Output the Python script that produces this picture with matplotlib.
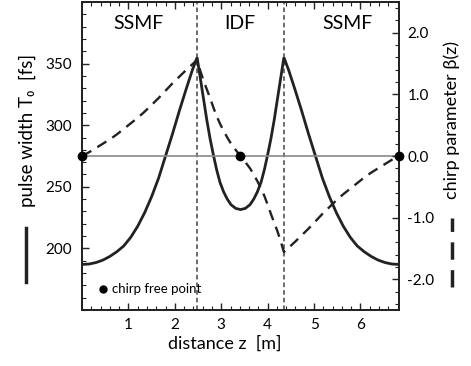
import numpy as np
import matplotlib.pyplot as plt
from matplotlib.lines import Line2D
from matplotlib.ticker import MultipleLocator

plt.rcParams['font.family'] = ['Lato', 'DejaVu Sans']

# distance z [m] (same grid for both curves)
z = [0.0, 0.15, 0.3, 0.45, 0.6, 0.75, 0.9, 1.05, 1.2, 1.35, 1.5, 1.65, 1.8, 1.95, 2.1, 2.25, 2.38, 2.48,
     2.55, 2.62, 2.69, 2.76, 2.83, 2.90, 2.97, 3.05, 3.13, 3.21, 3.31, 3.415,
     3.52, 3.62, 3.70, 3.78, 3.86, 3.93, 4.00, 4.07, 4.14, 4.21, 4.28, 4.35,
     4.45, 4.58, 4.73, 4.88, 5.03, 5.18, 5.33, 5.48, 5.63, 5.78, 5.93, 6.08, 6.23, 6.38, 6.53, 6.68, 6.83]

# pulse width T0 [fs]
T0 = [187, 187.3, 188.5, 190.5, 193.5, 197.3, 202, 209, 218, 229, 242, 257, 275, 293, 312, 330, 345, 355,
      338, 321, 304, 289, 276, 264, 254, 246, 240, 235.5, 232.5, 231.5,
      232.5, 235.5, 240, 246, 254, 264, 276, 289, 304, 321, 338, 355,
      345, 330, 312, 293, 275, 257, 242, 229, 218, 209, 202, 197.3, 193.5, 190.5, 188.5, 187.3, 187]

# chirp parameter beta(z)
beta = [0.0, 0.06, 0.13, 0.20, 0.27, 0.35, 0.44, 0.53, 0.62, 0.72, 0.83, 0.94, 1.06, 1.18, 1.29, 1.40, 1.49, 1.56,
        1.38, 1.22, 1.08, 0.94, 0.79, 0.65, 0.53, 0.41, 0.30, 0.20, 0.10, 0.0,
        -0.10, -0.20, -0.30, -0.41, -0.53, -0.65, -0.79, -0.94, -1.08, -1.22, -1.38, -1.56,
        -1.49, -1.40, -1.29, -1.18, -1.06, -0.94, -0.83, -0.72, -0.62, -0.53, -0.44, -0.35, -0.27, -0.20, -0.13, -0.06, 0.0]

chirp_free_z = [0.0, 3.415, 6.83]
fiber_bounds = [2.48, 4.35]
fiber_names = ['SSMF', 'IDF', 'SSMF']
fiber_name_z = [1.22, 3.41, 5.71]

dark = '#222222'

fig = plt.figure(figsize=(4.71, 3.66), dpi=100)
ax = fig.add_axes([82/471, 1-310/366, (399-82)/471, (310-2)/366])
ax2 = ax.twinx()

ax.set_xlim(0, 6.83)
ax.set_ylim(150, 400)
ax2.set_ylim(-2.5, 2.5)

ax2.axhline(0, color='#8a8a8a', lw=1.2, zorder=1)
for zb in fiber_bounds:
    ax.axvline(zb, color='#444444', lw=1.1, ls=(0, (3, 2)), zorder=1)

ax.plot(z, T0, color=dark, lw=2.0, solid_joinstyle='miter', zorder=3)
ax2.plot(z, beta, color=dark, lw=1.7, ls=(0, (4.5, 3)), zorder=3)
ax2.plot(chirp_free_z, [0]*len(chirp_free_z), 'o', color='black', ms=6, clip_on=False, zorder=5)

for name, zn in zip(fiber_names, fiber_name_z):
    ax.text(zn, 0.93, name, transform=ax.get_xaxis_transform(), ha='center', va='center', fontsize=14)

ax.plot([0.066], [0.068], 'o', color='black', ms=5, transform=ax.transAxes)
ax.text(0.095, 0.068, 'chirp free point', transform=ax.transAxes, ha='left', va='center', fontsize=9.5)

# ticks
ax.set_xticks([1, 2, 3, 4, 5, 6])
ax.xaxis.set_minor_locator(MultipleLocator(0.2))
ax.set_yticks([200, 250, 300, 350])
ax.yaxis.set_minor_locator(MultipleLocator(10))
ax2.set_yticks([-2, -1, 0, 1, 2])
ax2.yaxis.set_minor_locator(MultipleLocator(0.2))
ax2.set_yticklabels(['-2.0', '-1.0', '0.0', '1.0', '2.0'])

ax.tick_params(axis='x', which='both', direction='in', top=True, labelsize=11, pad=6, color=dark)
ax.tick_params(axis='y', which='both', direction='in', right=False, labelsize=11, pad=7, color=dark)
ax2.tick_params(axis='y', which='both', direction='in', labelsize=11, pad=6, color=dark)
for a in (ax, ax2):
    a.tick_params(which='major', length=5, width=1)
    a.tick_params(which='minor', length=3, width=0.8)
    for s in a.spines.values():
        s.set_linewidth(1.3)
        s.set_color(dark)

# axis labels with line-style keys
fig.text(225/471, 1-344/366, 'distance z  [m]', ha='center', va='center', fontsize=13)
fig.text(27/471, 1-130/366, 'pulse width T\u2080  [fs]', rotation=90, ha='center', va='center', fontsize=13.5)
fig.add_artist(Line2D([26/471, 26/471], [1-282/366, 1-228/366], color=dark, lw=2.5))
fig.text(452/471, 1-120/366, 'chirp parameter \u03b2(z)', rotation=90, ha='center', va='center', fontsize=13)
fig.add_artist(Line2D([452/471, 452/471], [1-287/366, 1-218/366], color=dark, lw=2.5, ls=(0, (5, 3))))

fig.savefig('out.png', dpi=100)
